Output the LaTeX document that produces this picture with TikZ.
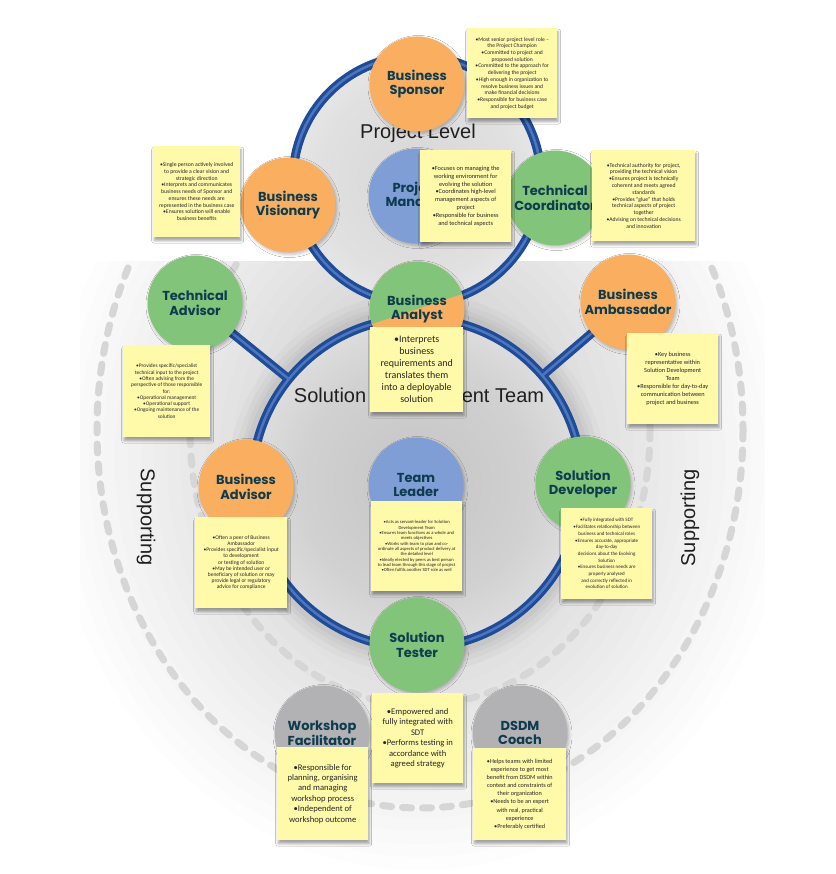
\documentclass[tikz,border=0pt]{standalone}
\usepackage{fontspec}
\setmainfont{Carlito}
\newfontfamily\rolefont{Poppins}
\newfontfamily\headfont{Liberation Sans}
\usetikzlibrary{shadows.blur,calc}

\definecolor{roleorange}{RGB}{249,174,96}
\definecolor{rolegreen}{RGB}{130,196,122}
\definecolor{roleblue}{RGB}{127,158,214}
\definecolor{rolegray}{RGB}{178,178,180}
\definecolor{roletext}{RGB}{14,60,78}
\definecolor{notefill}{RGB}{255,249,170}
\definecolor{ringdark}{RGB}{31,76,150}
\definecolor{ringlight}{RGB}{78,118,192}
\definecolor{dashgray}{RGB}{214,214,214}

% grey core inside the two rings
\pgfdeclareradialshading{coreshade}{\pgfpoint{0bp}{0bp}}{%
  color(0bp)=(gray!46); color(18bp)=(gray!36); color(34bp)=(gray!16);
  color(46bp)=(gray!4); color(50bp)=(white)}
\pgfdeclareradialshading{uppershade}{\pgfpoint{0bp}{0bp}}{%
  color(0bp)=(gray!32); color(20bp)=(gray!24); color(36bp)=(gray!12);
  color(46bp)=(gray!3); color(50bp)=(white)}

\begin{document}
\begin{tikzpicture}[x=1pt,y=-1pt,
  rolecircle/.style={circle, minimum size=95pt, inner sep=0pt, align=center,
    font=\rolefont\bfseries\fontsize{13}{14.8}\selectfont, text=roletext,
    blur shadow={shadow xshift=1.5pt, shadow yshift=-2pt, shadow opacity=25,
      shadow blur radius=3pt}},
  note/.style={rectangle, anchor=north west, inner sep=0pt, fill=notefill,
    align=center, text=black!85,
    blur shadow={shadow xshift=1pt, shadow yshift=-3.5pt, shadow opacity=35,
      shadow blur radius=2.5pt}},
  ring/.style={draw=ringdark, line width=9pt},
  ringshine/.style={draw=ringlight, line width=2.5pt},
  dashring/.style={draw=dashgray, line width=7pt, line cap=round,
    dash pattern=on 9pt off 11pt},
  headtext/.style={font=\headfont\fontsize{20}{24}\selectfont, text=black!88},
]
\useasboundingbox (0,0) rectangle (835,874);
\fill[white] (0,0) rectangle (835,874);

\coordinate (upc) at (417,180);
\coordinate (lowc) at (417,483);
\coordinate (dashc) at (420,430);

% background field (stacked translucent ellipses), dashed support band
\begin{scope}
  \clip (80,262) rectangle (765,874);
  \foreach \k in {0,...,19}
    \fill[black, opacity=0.008] (420,460)
      ellipse [x radius={370-\k*13}, y radius={410-\k*13}];
  \foreach \w/\o in {44/.05, 32/.06, 22/.07, 14/.08}
    \draw[gray, line width=\w pt, opacity=\o] (lowc) circle [radius=168];
  \draw[dashring] (dashc) ellipse [x radius=323, y radius=378];
  \draw[dashring] (dashc) ellipse [x radius=230, y radius=275];
\end{scope}

% ring interiors
\shade[shading=uppershade] (upc) circle [radius=122];
\shade[shading=coreshade] (lowc) circle [radius=162];

% headings
\node[headtext] (plevel) at (418,133) {Project Level};
\node[headtext] (sdteam) at (419,397) {Solution Development Team};
\node[headtext, rotate=-90] (supl) at (146,517) {Supporting};
\node[headtext, rotate=90] (supr) at (690,518) {Supporting};

% where the spokes leave the lower ring
\coordinate (ta0) at (195,303);
\coordinate (bam0) at (628,302);
\coordinate (tajoin) at ($(lowc)!165pt!(ta0)$);
\coordinate (bamjoin) at ($(lowc)!165pt!(bam0)$);

% blue rings and spokes
\draw[ring] (upc) circle [radius=124];
\draw[ring] (lowc) circle [radius=165];
\draw[ring] (tajoin) -- (ta0);
\draw[ring] (bamjoin) -- (bam0);
\draw[ringshine] (upc) circle [radius=124];
\draw[ringshine] (lowc) circle [radius=165];
\draw[ringshine] (tajoin) -- (ta0);
\draw[ringshine] (bamjoin) -- (bam0);

% roles
\node[rolecircle, fill=roleorange] (bs) at (417,84) {Business\\Sponsor};
\node[rolecircle, fill=roleorange] (bv) at (288,205) {Business\\Visionary};
\node[rolecircle, fill=roleblue] (pm) at (416,196) {Project\\Manager};
\node[rolecircle, fill=rolegreen] (tc) at (555,198) {Technical\\Coordinator};
\node[rolecircle, fill=rolegreen] (ta) at (ta0) {Technical\\Advisor};
\node[rolecircle, fill=roleorange,
  path picture={\fill[rolegreen]
    ([shift={(-60pt,-20pt)}]path picture bounding box.center) --
    ([shift={(60pt,20pt)}]path picture bounding box.center) --
    ([shift={(60pt,60pt)}]path picture bounding box.center) --
    ([shift={(-60pt,60pt)}]path picture bounding box.center) -- cycle;}]
  (ban) at (417,309) {Business\\Analyst};
\node[rolecircle, fill=roleorange] (bam) at (bam0) {Business\\Ambassador};
\node[rolecircle, fill=roleorange] (bad) at (246,487) {Business\\Advisor};
\node[rolecircle, fill=roleblue] (tl) at (416,485) {Team\\Leader};
\node[rolecircle, fill=rolegreen] (sd) at (583,484) {Solution\\Developer};
\node[rolecircle, fill=rolegreen] (st) at (417,645) {Solution\\Tester};
\node[rolecircle, fill=rolegray] (wf) at (322,733) {Workshop\\Facilitator};
\node[rolecircle, fill=rolegray] (dc) at (520,733) {DSDM\\Coach};

% sticky notes
\node[note, minimum width=90pt, minimum height=90pt,
  font=\fontsize{5.6}{6.7}\selectfont] (bsn) at (467,28)
  {•Most senior project level role –\\the Project Champion\\•Committed to project and\\proposed solution\\•Committed to the approach for\\delivering the project\\•High enough in organization to\\resolve business issues and\\make financial decisions\\•Responsible for business case\\and project budget};
\node[note, minimum width=87pt, minimum height=91pt,
  font=\fontsize{5.7}{6.7}\selectfont] (bvn) at (153,146)
  {•Single person actively involved\\to provide a clear vision and\\strategic direction\\•Interprets and communicates\\business needs of Sponsor and\\ensures these needs are\\represented in the business case\\•Ensures solution will enable\\business benefits};
\node[note, minimum width=91pt, minimum height=92pt,
  font=\fontsize{6.3}{7.9}\selectfont] (pmn) at (420,150)
  {•Focuses on managing the\\working environment for\\evolving the solution\\•Coordinates high-level\\management aspects of\\project\\•Responsible for business\\and technical aspects};
\node[note, minimum width=103pt, minimum height=91pt,
  font=\fontsize{5.7}{6.8}\selectfont] (tcn) at (592,150)
  {•Technical authority for project,\\providing the technical vision\\•Ensures project is technically\\coherent and meets agreed\\standards\\•Provides “glue” that holds\\technical aspects of project\\together\\•Advising on technical decisions\\and innovation};
\node[note, minimum width=87pt, minimum height=92pt,
  font=\fontsize{5.4}{6.3}\selectfont] (tan) at (123,345)
  {•Provides specific/specialist\\technical input to the project\\•Often advising from the\\perspective of those responsible\\for:\\•Operational management\\•Operational support\\•Ongoing maintenance of the\\solution};
\node[note, minimum width=93pt, minimum height=85pt,
  font=\fontsize{10}{12}\selectfont] (bann) at (370,327)
  {•Interprets\\business\\requirements and\\translates them\\into a deployable\\solution};
\node[note, minimum width=91pt, minimum height=91pt,
  font=\fontsize{6.3}{8.1}\selectfont] (bamn) at (627,333)
  {•Key business\\representative within\\Solution Development\\Team\\•Responsible for day-to-day\\communication between\\project and business};
\node[note, minimum width=92pt, minimum height=91pt,
  font=\fontsize{5.5}{6.2}\selectfont] (badn) at (195,517)
  {•Often a peer of Business\\Ambassador\\•Provides specific/specialist input\\to development\\or testing of solution\\•May be intended user or\\beneficiary of solution or may\\provide legal or regulatory\\advice for compliance};
\node[note, minimum width=91pt, minimum height=90pt,
  font=\fontsize{4.6}{5.3}\selectfont] (tln) at (371,501)
  {•Acts as servant-leader for Solution\\Development Team\\•Ensures team functions as a whole and\\meets objectives\\•Works with team to plan and co-\\ordinate all aspects of product delivery at\\the detailed level\\•Ideally elected by peers as best person\\to lead team through this stage of project\\•Often fulfils another SDT role as well};
\node[note, minimum width=91pt, minimum height=91pt,
  font=\fontsize{5}{6.7}\selectfont] (sdn) at (561,508)
  {•Fully integrated with SDT\\•Facilitates relationship between\\business and technical roles\\•Ensures accurate, appropriate\\day-to-day\\decisions about the Evolving\\Solution\\•Ensures business needs are\\properly analysed\\and correctly reflected in\\evolution of solution};
\node[note, minimum width=91pt, minimum height=90pt,
  font=\fontsize{8.6}{10.5}\selectfont] (stn) at (372,693)
  {•Empowered and\\fully integrated with\\SDT\\•Performs testing in\\accordance with\\agreed strategy};
\node[note, minimum width=91pt, minimum height=93pt,
  font=\fontsize{8.6}{10.4}\selectfont] (wfn) at (277,747)
  {•Responsible for\\planning, organising\\and managing\\workshop process\\•Independent of\\workshop outcome};
\node[note, minimum width=93pt, minimum height=92pt,
  font=\fontsize{6.2}{8.1}\selectfont] (dcn) at (473,748)
  {•Helps teams with limited\\experience to get most\\benefit from DSDM within\\context and constraints of\\their organization\\•Needs to be an expert\\with real, practical\\experience\\•Preferably certified};
\end{tikzpicture}
\end{document}
